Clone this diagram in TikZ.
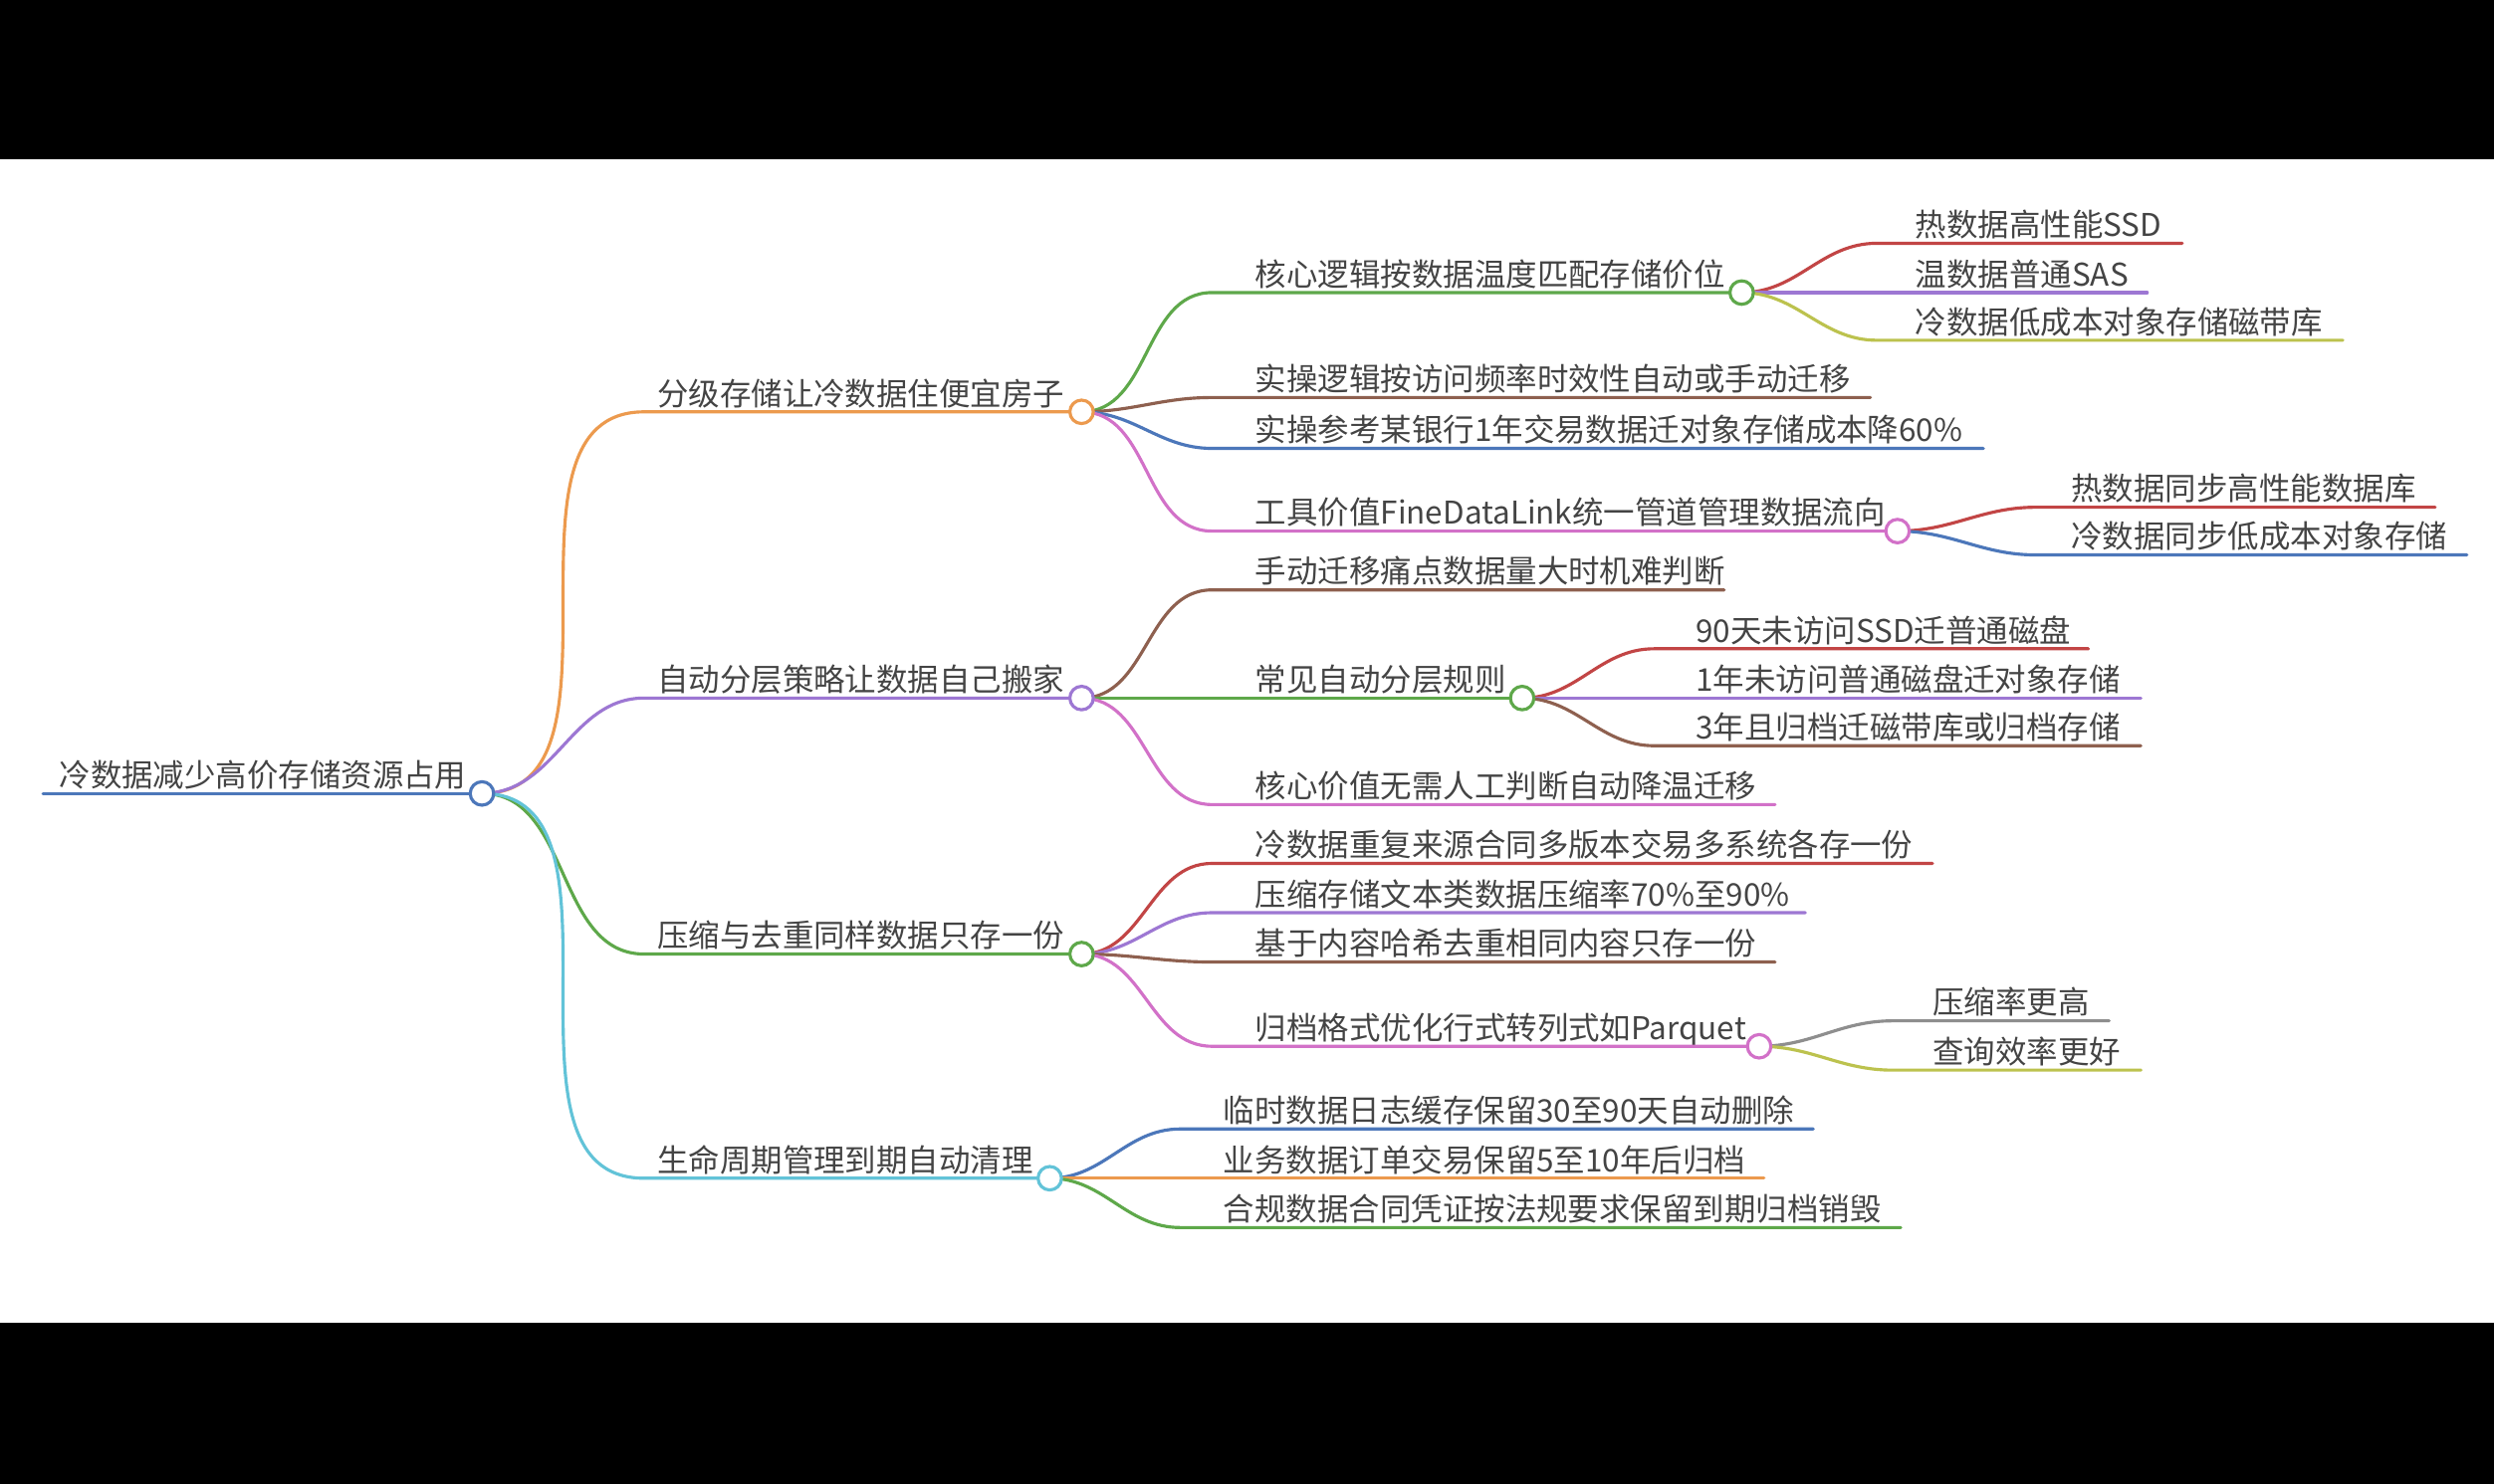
\documentclass[tikz,border=0pt]{standalone}
\usepackage{fontspec}
\setmainfont{Noto Sans CJK SC}
\usetikzlibrary{positioning}
\definecolor{cOrange}{HTML}{EC9A4E}
\definecolor{cPurple}{HTML}{9D77D3}
\definecolor{cGreen}{HTML}{5EA84A}
\definecolor{cCyan}{HTML}{62C3D8}
\definecolor{cBlue}{HTML}{4C77BA}
\definecolor{cBrown}{HTML}{8E604F}
\definecolor{cPink}{HTML}{D271C8}
\definecolor{cRed}{HTML}{C24545}
\definecolor{cOlive}{HTML}{BCC24E}
\definecolor{cGray}{HTML}{8E8E8E}
\definecolor{cText}{HTML}{444444}
\tikzset{
  lbl/.style={anchor=base west, inner sep=0pt, text=cText, font=\fontsize{14}{16}\selectfont},
  edge/.style={line width=1.4pt, line cap=round},
  knot/.style={circle, draw=#1, line width=1.4pt, fill=white, inner sep=0pt, minimum size=10.5pt}
}
% \twig{parent}{name}{x start}{x end}{x text}{y}{colour}{text}
\newcommand\twig[8]{%
  \coordinate (#2s) at (#3,#6);
  \coordinate (#2) at (#4,#6);
  \node[lbl] (#2t) at ([yshift=3pt]#5,#6) {#8};
  \draw[edge, #7] (#1) to[out=0, in=180] (#2s) -- (#2);
}
\begin{document}
\begin{tikzpicture}[x=0.025cm, y=-0.025cm]
  \fill[black] (0,0) rectangle (1568,933);
  \fill[white] (0,100) rectangle (1568,832);
  \useasboundingbox (0,0) rectangle (1568,933);
  % root
  \coordinate (roots) at (27,499);
  \coordinate (root) at (303,499);
  \node[lbl] (roott) at ([yshift=3pt]37,499) {冷数据减少高价存储资源占用};
  \draw[edge, cBlue] (roots) -- (root);
  % level 1
  \twig{root}{fenji}{405}{680}{413}{259}{cOrange}{分级存储让冷数据住便宜房子}
  \twig{root}{zidong}{405}{680}{413}{439}{cPurple}{自动分层策略让数据自己搬家}
  \twig{root}{yasuo}{405}{680}{413}{600}{cGreen}{压缩与去重同样数据只存一份}
  \twig{root}{shengming}{405}{660}{413}{741}{cCyan}{生命周期管理到期自动清理}
  % fenji
  \twig{fenji}{hexin}{762}{1095}{789}{184}{cGreen}{核心逻辑按数据温度匹配存储价位}
  \twig{fenji}{shicao}{762}{1176}{789}{250}{cBrown}{实操逻辑按访问频率时效性自动或手动迁移}
  \twig{fenji}{cankao}{762}{1247}{789}{282}{cBlue}{实操参考某银行1年交易数据迁对象存储成本降60\%}
  \twig{fenji}{gongju}{762}{1193}{789}{334}{cPink}{工具价值FineDataLink统一管道管理数据流向}
  \twig{hexin}{re}{1180}{1372}{1204}{153}{cRed}{热数据高性能SSD}
  \twig{hexin}{wen}{1180}{1350}{1204}{184}{cPurple}{温数据普通SAS}
  \twig{hexin}{leng}{1180}{1473}{1204}{214}{cOlive}{冷数据低成本对象存储磁带库}
  \twig{gongju}{tongre}{1280}{1531}{1302}{319}{cRed}{热数据同步高性能数据库}
  \twig{gongju}{tongleng}{1280}{1551}{1302}{349}{cBlue}{冷数据同步低成本对象存储}
  % zidong
  \twig{zidong}{tongdian}{762}{1084}{789}{371}{cBrown}{手动迁移痛点数据量大时机难判断}
  \twig{zidong}{guize}{762}{957}{789}{439}{cGreen}{常见自动分层规则}
  \twig{zidong}{jiazhi}{762}{1116}{789}{506}{cPink}{核心价值无需人工判断自动降温迁移}
  \twig{guize}{gzA}{1040}{1313}{1066}{408}{cRed}{90天未访问SSD迁普通磁盘}
  \twig{guize}{gzB}{1040}{1346}{1066}{439}{cPurple}{1年未访问普通磁盘迁对象存储}
  \twig{guize}{gzC}{1040}{1346}{1066}{469}{cBrown}{3年且归档迁磁带库或归档存储}
  % yasuo
  \twig{yasuo}{chongfu}{762}{1215}{789}{543}{cRed}{冷数据重复来源合同多版本交易多系统各存一份}
  \twig{yasuo}{wenben}{762}{1135}{789}{574}{cPurple}{压缩存储文本类数据压缩率70\%至90\%}
  \twig{yasuo}{haxi}{762}{1116}{789}{605}{cBrown}{基于内容哈希去重相同内容只存一份}
  \twig{yasuo}{geshi}{762}{1106}{789}{658}{cPink}{归档格式优化行式转列式如Parquet}
  \twig{geshi}{gaoA}{1190}{1326}{1215}{642}{cGray}{压缩率更高}
  \twig{geshi}{gaoB}{1190}{1346}{1215}{673}{cOlive}{查询效率更好}
  % shengming
  \twig{shengming}{linshi}{742}{1140}{769}{710}{cBlue}{临时数据日志缓存保留30至90天自动删除}
  \twig{shengming}{yewu}{742}{1109}{769}{741}{cOrange}{业务数据订单交易保留5至10年后归档}
  \twig{shengming}{hegui}{742}{1195}{769}{772}{cGreen}{合规数据合同凭证按法规要求保留到期归档销毁}
  % knots
  \node[knot=cBlue] at (root) {};
  \node[knot=cOrange] at (fenji) {};
  \node[knot=cPurple] at (zidong) {};
  \node[knot=cGreen] at (yasuo) {};
  \node[knot=cCyan] at (shengming) {};
  \node[knot=cGreen] at (hexin) {};
  \node[knot=cPink] at (gongju) {};
  \node[knot=cGreen] at (guize) {};
  \node[knot=cPink] at (geshi) {};
\end{tikzpicture}
\end{document}
